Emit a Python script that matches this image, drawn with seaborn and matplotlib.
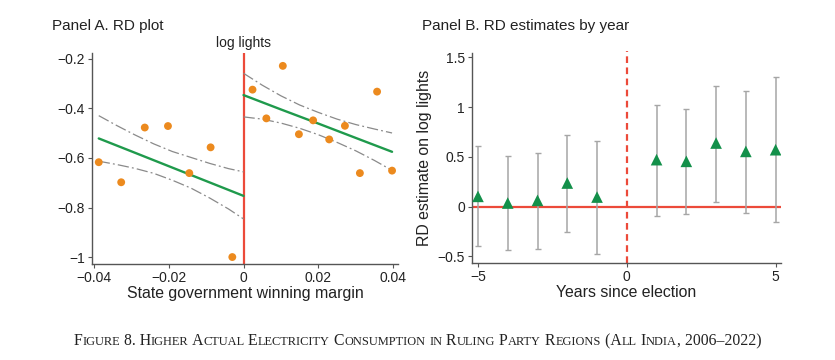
import numpy as np
import pandas as pd
import matplotlib
matplotlib.use("Agg")
import matplotlib.pyplot as plt
import seaborn as sns

# Panel A: binned means
bin_margin = [-0.0387, -0.0327, -0.0264, -0.0202, -0.0145, -0.0088, -0.0030,
              0.0024, 0.0061, 0.0105, 0.0148, 0.0186, 0.0229, 0.0271, 0.0311,
              0.0357, 0.0397]
bin_lights = [-0.617, -0.698, -0.477, -0.471, -0.661, -0.557, -1.000,
              -0.324, -0.440, -0.228, -0.504, -0.448, -0.525, -0.470, -0.661,
              -0.332, -0.651]

fit_left_x = [-0.0387, -0.03, -0.02, -0.01, 0.0]
fit_left_y = [-0.521, -0.573, -0.633, -0.693, -0.753]
ci_left_x = [-0.0387, -0.034, -0.029, -0.024, -0.019, -0.014, -0.009, -0.004, 0.0]
ci_left_hi = [-0.429, -0.468, -0.507, -0.543, -0.574, -0.598, -0.622, -0.643, -0.656]
ci_left_lo = [-0.613, -0.626, -0.642, -0.662, -0.690, -0.722, -0.762, -0.806, -0.846]

fit_right_x = [0.0, 0.01, 0.02, 0.03, 0.0397]
fit_right_y = [-0.346, -0.404, -0.461, -0.519, -0.575]
ci_right_x = [0.0, 0.005, 0.010, 0.015, 0.020, 0.025, 0.030, 0.035, 0.0397]
ci_right_hi = [-0.258, -0.306, -0.349, -0.386, -0.416, -0.443, -0.465, -0.483, -0.499]
ci_right_lo = [-0.434, -0.443, -0.459, -0.480, -0.506, -0.537, -0.571, -0.610, -0.650]

xticks_a = [-0.04, -0.02, 0, 0.02, 0.04]
xtick_labels_a = ["\u22120.04", "\u22120.02", "0", "0.02", "0.04"]
yticks_a = [-0.2, -0.4, -0.6, -0.8, -1.0]
ytick_labels_a = ["\u22120.2", "\u22120.4", "\u22120.6", "\u22120.8", "\u22121"]

# Panel B: RD estimates by year
years = [-5, -4, -3, -2, -1, 1, 2, 3, 4, 5]
estimate = [0.103, 0.036, 0.063, 0.237, 0.096, 0.472, 0.455, 0.639, 0.555, 0.572]
ci_hi = [0.606, 0.512, 0.539, 0.720, 0.660, 1.024, 0.984, 1.215, 1.165, 1.299]
ci_lo = [-0.393, -0.440, -0.423, -0.255, -0.477, -0.095, -0.078, 0.043, -0.061, -0.158]

xticks_b = [-5, 0, 5]
xtick_labels_b = ["\u22125", "0", "5"]
yticks_b = [1.5, 1, 0.5, 0, -0.5]
ytick_labels_b = ["1.5", "1", "0.5", "0", "\u22120.5"]

caption = ("Figure 8. Higher Actual Electricity Consumption in Ruling Party "
           "Regions (All India, 2006\u20132022)")

ORANGE = "#ec8a1e"
GREEN = "#1f9a4c"
RED = "#ec4a3a"
GREY = "#a6a6a6"
DASH_GREY = "#8a8a8a"
SPINE = "#555555"

sns.set_theme(style="white")
plt.rcParams["font.family"] = ["Liberation Sans", "DejaVu Sans"]

fig = plt.figure(figsize=(8.35, 3.6), dpi=100)
ax_a = fig.add_axes([0.1102, 0.2667, 0.3665, 0.5861])
ax_b = fig.add_axes([0.5653, 0.2694, 0.3700, 0.5834])


def style_axes(ax):
    for side in ["top", "right"]:
        ax.spines[side].set_visible(False)
    for side in ["left", "bottom"]:
        ax.spines[side].set_color(SPINE)
        ax.spines[side].set_linewidth(1.0)
    ax.tick_params(axis="both", which="major", direction="out", length=3,
                   width=0.8, color=SPINE, labelsize=10, pad=2,
                   labelcolor="#222222", left=True, bottom=True)


# ---- Panel A ----
ax_a.axvline(0, color=RED, lw=1.6, zorder=1)
dash = (0, (9, 2.5, 1.5, 2.5))
for xs, ys in [(ci_left_x, ci_left_hi), (ci_left_x, ci_left_lo),
               (ci_right_x, ci_right_hi), (ci_right_x, ci_right_lo)]:
    ax_a.plot(xs, ys, color=DASH_GREY, lw=0.9, linestyle=dash, zorder=2)
sns.lineplot(x=fit_left_x, y=fit_left_y, ax=ax_a, color=GREEN, lw=1.7, zorder=3)
sns.lineplot(x=fit_right_x, y=fit_right_y, ax=ax_a, color=GREEN, lw=1.7, zorder=3)
sns.scatterplot(x=bin_margin, y=bin_lights, ax=ax_a, color=ORANGE, s=32,
                edgecolor="none", zorder=4)

ax_a.set_xlim(-0.0405, 0.0413)
ax_a.set_ylim(-1.028, -0.176)
ax_a.set_xticks(xticks_a, xtick_labels_a)
ax_a.set_yticks(yticks_a, ytick_labels_a)
ax_a.set_xlabel("State government winning margin", fontsize=11.4, labelpad=1,
                color="#222222")
ax_a.set_ylabel("")
style_axes(ax_a)
ax_a.text(0, 1.015, "log lights", transform=ax_a.get_xaxis_transform(),
          ha="center", va="bottom", fontsize=10, color="#222222")

# ---- Panel B ----
ax_b.axhline(0, color=RED, lw=1.6, zorder=1)
ax_b.axvline(0, color=RED, lw=1.6, linestyle=(0, (3, 2)), zorder=1,
             ymax=1.01, clip_on=False)
ax_b.errorbar(years, estimate,
              yerr=[np.array(estimate) - np.array(ci_lo),
                    np.array(ci_hi) - np.array(estimate)],
              fmt="none", ecolor=GREY, elinewidth=1.1, capsize=2.5,
              capthick=1.0, zorder=2)
sns.scatterplot(x=years, y=estimate, ax=ax_b, marker="^", color="#13904a",
                s=70, edgecolor="none", zorder=3)

ax_b.set_xlim(-5.2, 5.18)
ax_b.set_ylim(-0.567, 1.544)
ax_b.set_xticks(xticks_b, xtick_labels_b)
ax_b.set_yticks(yticks_b, ytick_labels_b)
ax_b.set_xlabel("Years since election", fontsize=11.4, labelpad=1,
                color="#222222")
ax_b.set_ylabel("RD estimate on log lights", fontsize=11.4, labelpad=4,
                color="#222222")
style_axes(ax_b)

# panel titles
fig.text(52 / 835, 1 - 26 / 360, "Panel A. RD plot", fontsize=11,
         ha="left", va="center", color="#222222")
fig.text(422 / 835, 1 - 26 / 360, "Panel B. RD estimates by year",
         fontsize=11, ha="left", va="center", color="#222222")


# caption in small caps, drawn run by run
def small_caps(fig, text, cx, y, big, small):
    runs = []
    for ch in text:
        size = small if ch.islower() else big
        if runs and runs[-1][1] == size:
            runs[-1][0] += ch.upper()
        else:
            runs.append([ch.upper(), size])
    renderer = fig.canvas.get_renderer()
    fw = fig.bbox.width
    items = []
    total = 0
    for s, size in runs:
        t = fig.text(0, y, s, fontsize=size, ha="left", va="baseline",
                     family=["Liberation Serif", "DejaVu Serif"],
                     color="#222222")
        w = t.get_window_extent(renderer).width
        items.append((t, w))
        total += w
    x = cx * fw - total / 2
    for t, w in items:
        t.set_x(x / fw)
        x += w


small_caps(fig, caption, 0.5, 1 - 345 / 360, 11.3, 8.9)

fig.savefig("out.png", dpi=100)
